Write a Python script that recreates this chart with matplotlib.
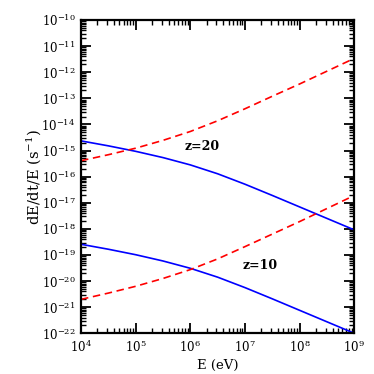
import numpy as np
import matplotlib
matplotlib.use("Agg")
import matplotlib.pyplot as plt
from matplotlib.ticker import LogLocator, NullFormatter, FixedLocator

plt.rcParams['font.family'] = ['DejaVu Serif']
plt.rcParams['mathtext.fontset'] = 'dejavuserif'

# log10 of energy (eV)
logE = [4.0, 4.5, 5.0, 5.5, 6.0, 6.5, 7.0, 7.5, 8.0, 8.5, 9.0]

# log10 of dE/dt/E (s^-1)
blue_z20 = [-14.63, -14.82, -15.03, -15.27, -15.55, -15.89, -16.29, -16.72, -17.16, -17.60, -18.04]
red_z20 = [-15.39, -15.16, -14.91, -14.61, -14.27, -13.86, -13.40, -12.92, -12.45, -11.96, -11.47]
blue_z10 = [-18.59, -18.78, -18.99, -19.23, -19.51, -19.85, -20.25, -20.68, -21.12, -21.56, -22.00]
red_z10 = [-20.70, -20.46, -20.20, -19.90, -19.56, -19.15, -18.68, -18.20, -17.72, -17.22, -16.72]

labels = [("z=20", 6.21, -14.85), ("z=10", 7.28, -19.42)]

fig = plt.figure(figsize=(3.74, 3.74), dpi=100)
ax = fig.add_axes([81/374, 1 - 333.3/374, (354.3-81)/374, (333.3-20)/374])

E = 10 ** np.array(logE)
dash = (0, (4.5, 2.8))
for ys, col, ls in [(blue_z20, 'blue', '-'), (red_z20, 'red', dash),
                    (blue_z10, 'blue', '-'), (red_z10, 'red', dash)]:
    ax.plot(E, 10 ** np.array(ys), color=col, linestyle=ls, lw=1.2)

for t, lx, ly in labels:
    ax.text(10 ** lx, 10 ** ly, t, fontsize=9, ha='center', va='center', fontweight='bold')

ax.set_xscale('log')
ax.set_yscale('log')
ax.set_xlim(1e4, 1e9)
ax.set_ylim(1e-22, 1e-10)

ax.xaxis.set_major_locator(FixedLocator(10.0 ** np.arange(4, 10)))
ax.yaxis.set_major_locator(FixedLocator(10.0 ** np.arange(-22, -9)))
ax.xaxis.set_minor_locator(LogLocator(base=10, subs=np.arange(2, 10), numticks=50))
ax.yaxis.set_minor_locator(LogLocator(base=10, subs=np.arange(2, 10), numticks=50))
ax.xaxis.set_minor_formatter(NullFormatter())
ax.yaxis.set_minor_formatter(NullFormatter())

ax.tick_params(which='both', direction='in', top=True, right=True, labelsize=8.5)
ax.tick_params(which='major', length=7, width=1.3)
ax.tick_params(which='minor', length=3.5, width=1.0)
ax.tick_params(axis='x', which='major', pad=4)
ax.tick_params(axis='y', which='major', pad=4)
for s in ax.spines.values():
    s.set_linewidth(1.6)

ax.set_xlabel('E (eV)', fontsize=9.5, labelpad=3)
ax.set_ylabel(r'dE/dt/E (s$^{-1}$)', fontsize=10.5, labelpad=-1)

fig.savefig('out.png', dpi=100)
